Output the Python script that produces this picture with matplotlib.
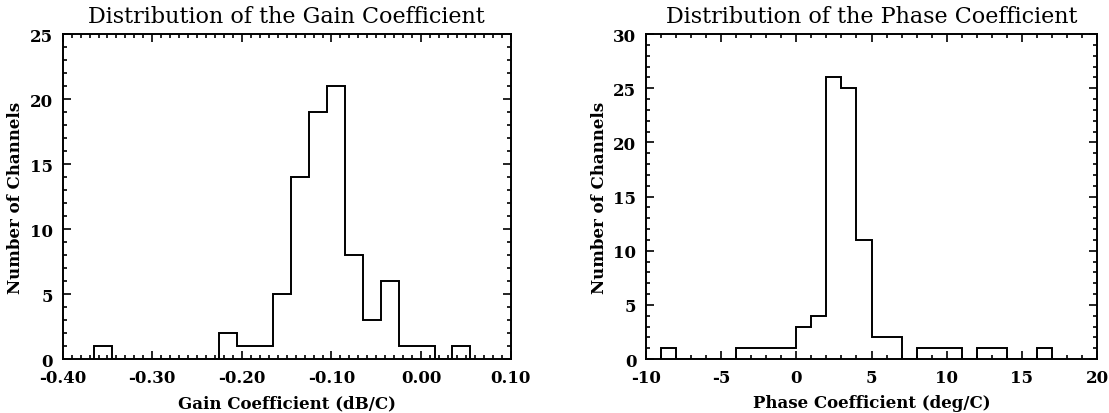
import numpy as np
import matplotlib
matplotlib.use("Agg")
import matplotlib.pyplot as plt
from matplotlib.ticker import MultipleLocator, FormatStrFormatter

# Gain coefficient histogram (dB/C)
gain_edges = [-0.365 + 0.02 * k for k in range(22)]
gain_counts = [1, 0, 0, 0, 0, 0, 0, 2, 1, 1, 5, 14, 19, 21, 8, 3, 6, 1, 1, 0, 1]

# Phase coefficient histogram (deg/C)
phase_edges = list(range(-9, 18))
phase_counts = [1, 0, 0, 0, 0, 1, 1, 1, 1, 3, 4, 26, 25, 11, 2, 2, 0, 1, 1, 1, 0, 1, 1, 0, 0, 1]

titles = ["Distribution of the Gain Coefficient", "Distribution of the Phase Coefficient"]
xlabels = ["Gain Coefficient (dB/C)", "Phase Coefficient (deg/C)"]
ylabel = "Number of Channels"

plt.rcParams["axes.unicode_minus"] = False

fig = plt.figure(figsize=(11.09, 4.14), dpi=100)
ax1 = fig.add_axes([0.0565, 0.1304, 0.404, 0.785])
ax2 = fig.add_axes([0.5825, 0.1304, 0.4067, 0.785])

title_font = dict(family="DejaVu Serif", size=16)
label_font = dict(family="DejaVu Serif", size=12, weight="bold")
tick_family = "DejaVu Serif"

def style(ax, xlim, ylim, xmaj, xmin, fmt):
    ax.set_xlim(*xlim)
    ax.set_ylim(*ylim)
    ax.xaxis.set_major_locator(MultipleLocator(xmaj))
    ax.xaxis.set_minor_locator(MultipleLocator(xmin))
    ax.yaxis.set_major_locator(MultipleLocator(5))
    ax.yaxis.set_minor_locator(MultipleLocator(1))
    ax.xaxis.set_major_formatter(FormatStrFormatter(fmt))
    ax.tick_params(which="both", direction="in", top=True, right=True,
                   width=1.2, colors="black")
    ax.tick_params(which="major", length=6, pad=7)
    ax.tick_params(which="minor", length=3)
    for sp in ax.spines.values():
        sp.set_linewidth(1.4)
    for lab in ax.get_xticklabels() + ax.get_yticklabels():
        lab.set_family(tick_family)
        lab.set_fontsize(12)
        lab.set_fontweight("bold")

ax1.stairs(gain_counts, gain_edges, color="black", linewidth=1.4)
style(ax1, (-0.40, 0.10), (0, 25), 0.1, 0.01, "%.2f")
ax1.set_title(titles[0], pad=9, **title_font)
ax1.set_xlabel(xlabels[0], labelpad=6, **label_font)
ax1.set_ylabel(ylabel, labelpad=4, **label_font)

ax2.stairs(phase_counts, phase_edges, color="black", linewidth=1.4)
style(ax2, (-10, 20), (0, 30), 5, 1, "%d")
ax2.set_title(titles[1], pad=9, **title_font)
ax2.set_xlabel(xlabels[1], labelpad=6, **label_font)
ax2.set_ylabel(ylabel, labelpad=4, **label_font)

fig.savefig("out.png", dpi=100)
